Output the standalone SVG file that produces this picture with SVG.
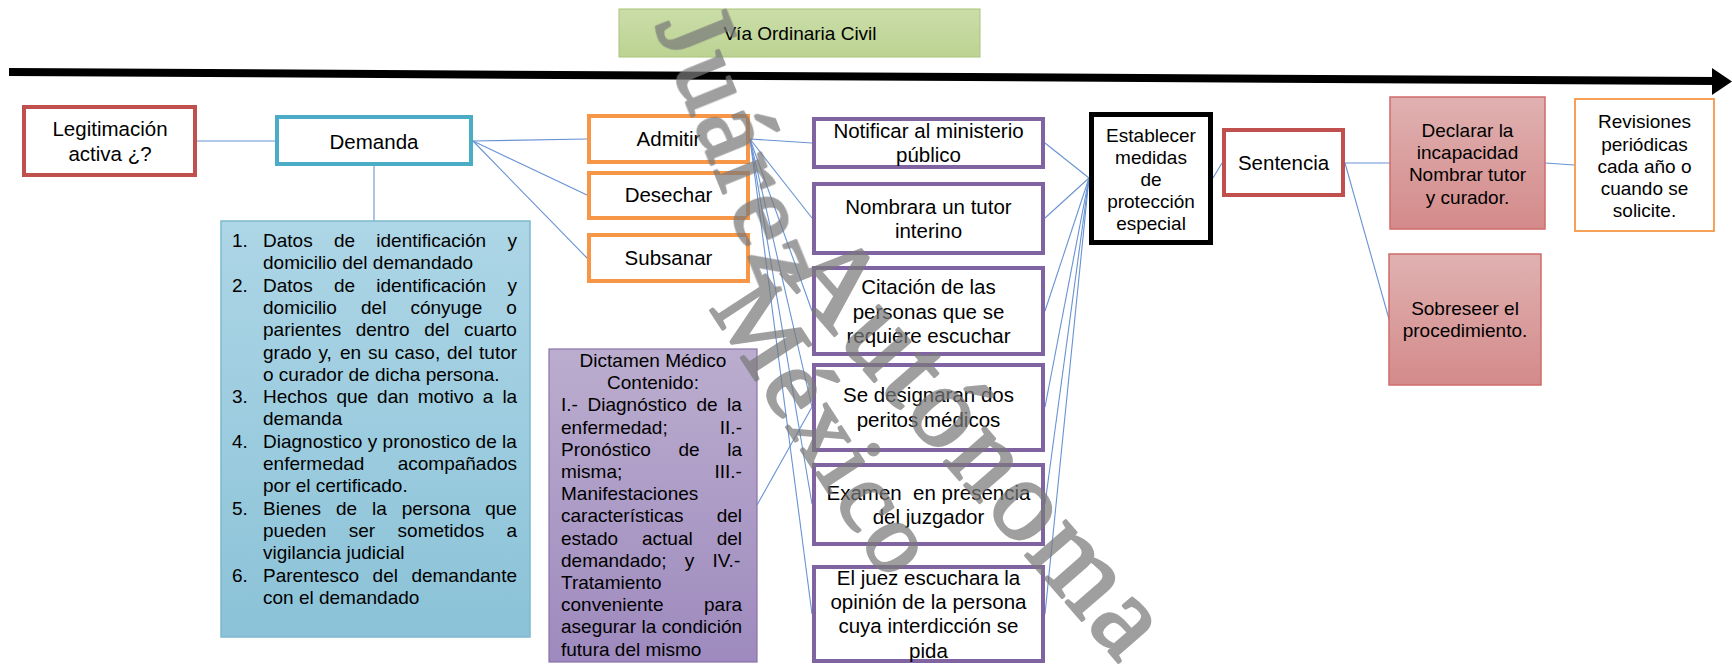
<svg xmlns="http://www.w3.org/2000/svg" width="1732" height="665" viewBox="0 0 1732 665">
  <defs>
    <linearGradient id="gGreen" x1="0" y1="0" x2="0" y2="1">
      <stop offset="0" stop-color="#CADDA8"/>
      <stop offset="1" stop-color="#BCD393"/>
    </linearGradient>
    <linearGradient id="gBlue" x1="0" y1="0" x2="0" y2="1">
      <stop offset="0" stop-color="#ADD6E6"/>
      <stop offset="1" stop-color="#8BC2D7"/>
    </linearGradient>
    <linearGradient id="gPurple" x1="0" y1="0" x2="0" y2="1">
      <stop offset="0" stop-color="#BBADCE"/>
      <stop offset="1" stop-color="#9E8ABE"/>
    </linearGradient>
    <linearGradient id="gRed" x1="0" y1="0" x2="0" y2="1">
      <stop offset="0" stop-color="#E0B1B1"/>
      <stop offset="1" stop-color="#D48A8A"/>
    </linearGradient>
  </defs>
  <style>
    text { font-family: "Liberation Sans", Arial, sans-serif; fill: #000; }
    .s19 { font-size: 19px; }
    .s20 { font-size: 20.5px; }
    .c { text-anchor: middle; }
    .pre { white-space: pre; }
    .conn line { stroke: #6893D3; stroke-width: 1.1; }
    .box { fill: #fff; }
    .redBox { stroke: #C0504D; stroke-width: 4; }
    .blueBox { stroke: #4BACC6; stroke-width: 4; }
    .orangeBox { stroke: #F79646; stroke-width: 4; }
    .purpleBox { stroke: #8064A2; stroke-width: 4; }
    .wm { opacity: 0.72; }
    .wm text { font-family: "Liberation Serif", "Times New Roman", serif; fill: #7a7a7a; stroke: #7a7a7a; stroke-width: 3; stroke-linejoin: round; letter-spacing: 4px; }
  </style>

  <rect width="1732" height="665" fill="#fff"/>

  <!-- title -->
  <g id="title">
    <rect x="619" y="9" width="361" height="48" fill="url(#gGreen)" stroke="#A9C47A" stroke-width="1"/>
    <text class="s19 c" x="800" y="40">Vía Ordinaria Civil</text>
  </g>

  <!-- time line -->
  <g id="timeline">
    <line x1="9" y1="72" x2="1716" y2="81" stroke="#000" stroke-width="8"/>
    <polygon points="1712,68 1732,81.5 1712,95" fill="#000"/>
  </g>

  <!-- connectors -->
  <g class="conn" id="connectors">
    <line x1="197" y1="141" x2="275" y2="141"/>
    <line x1="473" y1="141" x2="587" y2="139"/>
    <line x1="473" y1="141" x2="587" y2="195"/>
    <line x1="473" y1="141" x2="587" y2="258"/>
    <line x1="374" y1="166" x2="374" y2="221"/>
    <line x1="750" y1="139" x2="812" y2="143"/>
    <line x1="750" y1="139" x2="812" y2="218"/>
    <line x1="750" y1="139" x2="812" y2="311"/>
    <line x1="750" y1="139" x2="812" y2="407"/>
    <line x1="750" y1="139" x2="812" y2="504"/>
    <line x1="750" y1="139" x2="812" y2="614"/>
    <line x1="757" y1="505" x2="812" y2="407"/>
    <line x1="1045" y1="143" x2="1089" y2="178"/>
    <line x1="1045" y1="218" x2="1089" y2="178"/>
    <line x1="1045" y1="311" x2="1089" y2="178"/>
    <line x1="1045" y1="407" x2="1089" y2="178"/>
    <line x1="1045" y1="504" x2="1089" y2="178"/>
    <line x1="1045" y1="614" x2="1089" y2="178"/>
    <line x1="1213" y1="178" x2="1222" y2="163"/>
    <line x1="1345" y1="163" x2="1390" y2="163"/>
    <line x1="1345" y1="163" x2="1389" y2="319"/>
    <line x1="1545" y1="163" x2="1574" y2="165"/>
  </g>

  <g id="legitimacion">
    <rect class="box redBox" x="24" y="107" width="171" height="68"/>
    <text class="s20 c" x="110" y="136">Legitimación</text>
    <text class="s20 c" x="110" y="161">activa ¿?</text>
  </g>

  <g id="demanda">
    <rect class="box blueBox" x="277" y="117" width="194" height="47"/>
    <text class="s20 c" x="374" y="149">Demanda</text>
  </g>

  <g id="requisitos">
    <rect x="221" y="221" width="309" height="416" fill="url(#gBlue)" stroke="#7DB9D0" stroke-width="1.5"/>
    <g class="s19">
      <text x="232" y="247">1.</text>
      <text y="247"><tspan x="263">Datos</tspan><tspan x="333.9">de</tspan><tspan x="376.3">identificación</tspan><tspan x="507.4">y</tspan></text>
      <text x="263" y="269.3">domicilio del demandado</text>
      <text x="232" y="291.6">2.</text>
      <text y="291.6"><tspan x="263">Datos</tspan><tspan x="333.9">de</tspan><tspan x="376.3">identificación</tspan><tspan x="507.4">y</tspan></text>
      <text y="313.9"><tspan x="263">domicilio</tspan><tspan x="361">del</tspan><tspan x="410.4">cónyuge</tspan><tspan x="506.3">o</tspan></text>
      <text y="336.2"><tspan x="263">parientes</tspan><tspan x="355.7">dentro</tspan><tspan x="424.2">del</tspan><tspan x="464.1">cuarto</tspan></text>
      <text y="358.5"><tspan x="263">grado</tspan><tspan x="318.4">y,</tspan><tspan x="340">en</tspan><tspan x="367.9">su</tspan><tspan x="394.8">caso,</tspan><tspan x="447">del</tspan><tspan x="479.1">tutor</tspan></text>
      <text x="263" y="380.8">o curador de dicha persona.</text>
      <text x="232" y="403.1">3.</text>
      <text y="403.1"><tspan x="263">Hechos</tspan><tspan x="336.4">que</tspan><tspan x="377.1">dan</tspan><tspan x="417.8">motivo</tspan><tspan x="482.8">a</tspan><tspan x="502.4">la</tspan></text>
      <text x="263" y="425.4">demanda</text>
      <text x="232" y="447.7">4.</text>
      <text y="447.7"><tspan x="263">Diagnostico</tspan><tspan x="367.7">y</tspan><tspan x="382.6">pronostico</tspan><tspan x="475.6">de</tspan><tspan x="502.1">la</tspan></text>
      <text y="470"><tspan x="263">enfermedad</tspan><tspan x="397.7">acompañados</tspan></text>
      <text x="263" y="492.3">por el certificado.</text>
      <text x="232" y="514.6">5.</text>
      <text y="514.6"><tspan x="263">Bienes</tspan><tspan x="336">de</tspan><tspan x="372">la</tspan><tspan x="401.7">persona</tspan><tspan x="485.2">que</tspan></text>
      <text y="536.9"><tspan x="263">pueden</tspan><tspan x="348.8">ser</tspan><tspan x="397.6">sometidos</tspan><tspan x="506.6">a</tspan></text>
      <text x="263" y="559.2">vigilancia judicial</text>
      <text x="232" y="581.5">6.</text>
      <text y="581.5"><tspan x="263">Parentesco</tspan><tspan x="372.6">del</tspan><tspan x="411.4">demandante</tspan></text>
      <text x="263" y="603.8">con el demandado</text>
    </g>
  </g>

  <g id="admitir">
    <rect class="box orangeBox" x="589" y="116" width="159" height="46"/>
    <text class="s20 c" x="668.5" y="145.5">Admitir</text>
  </g>
  <g id="desechar">
    <rect class="box orangeBox" x="589" y="173" width="159" height="45"/>
    <text class="s20 c" x="668.5" y="202">Desechar</text>
  </g>
  <g id="subsanar">
    <rect class="box orangeBox" x="589" y="235" width="159" height="46"/>
    <text class="s20 c" x="668.5" y="265">Subsanar</text>
  </g>

  <g id="dictamen">
    <rect x="549" y="349" width="208" height="313" fill="url(#gPurple)" stroke="#8A72AC" stroke-width="1.2"/>
    <g class="s19">
      <text class="c" x="653" y="367">Dictamen Médico</text>
      <text class="c" x="653" y="389.2">Contenido:</text>
      <text y="411.4"><tspan x="561">I.-</tspan><tspan x="587.5">Diagnóstico</tspan><tspan x="696.4">de</tspan><tspan x="727.1">la</tspan></text>
      <text y="433.6"><tspan x="561">enfermedad;</tspan><tspan x="719.8">II.-</tspan></text>
      <text y="455.8"><tspan x="561">Pronóstico</tspan><tspan x="678.5">de</tspan><tspan x="727.3">la</tspan></text>
      <text y="478"><tspan x="561">misma;</tspan><tspan x="714.5">III.-</tspan></text>
      <text x="561" y="500.2">Manifestaciones</text>
      <text y="522.4"><tspan x="561">características</tspan><tspan x="716.7">del</tspan></text>
      <text y="544.6"><tspan x="561">estado</tspan><tspan x="642">actual</tspan><tspan x="716.7">del</tspan></text>
      <text y="566.8"><tspan x="561">demandado;</tspan><tspan x="684.8">y</tspan><tspan x="712.4">IV.-</tspan></text>
      <text x="561" y="589">Tratamiento</text>
      <text y="611.2"><tspan x="561">conveniente</tspan><tspan x="704">para</tspan></text>
      <text y="633.4"><tspan x="561">asegurar</tspan><tspan x="641.5">la</tspan><tspan x="661.8">condición</tspan></text>
      <text x="561" y="655.6">futura del mismo</text>
    </g>
  </g>

  <g id="notificar">
    <rect class="box purpleBox" x="814" y="119" width="229" height="48"/>
    <text class="s20 c" x="928.5" y="138">Notificar al ministerio</text>
    <text class="s20 c" x="928.5" y="162">público</text>
  </g>
  <g id="tutor-interino">
    <rect class="box purpleBox" x="814" y="184" width="229" height="69"/>
    <text class="s20 c" x="928.5" y="214">Nombrara un tutor</text>
    <text class="s20 c" x="928.5" y="238">interino</text>
  </g>
  <g id="citacion">
    <rect class="box purpleBox" x="814" y="268" width="229" height="86"/>
    <text class="s20 c" x="928.5" y="294">Citación de las</text>
    <text class="s20 c" x="928.5" y="319">personas que se</text>
    <text class="s20 c" x="928.5" y="343">requiere escuchar</text>
  </g>
  <g id="peritos">
    <rect class="box purpleBox" x="814" y="365" width="229" height="85"/>
    <text class="s20 c" x="928.5" y="402">Se designaran dos</text>
    <text class="s20 c" x="928.5" y="427">peritos médicos</text>
  </g>
  <g id="examen">
    <rect class="box purpleBox" x="814" y="465" width="229" height="79"/>
    <text class="s20 c pre" x="928.5" y="500">Examen  en presencia</text>
    <text class="s20 c" x="928.5" y="524">del juzgador</text>
  </g>
  <g id="opinion">
    <rect class="box purpleBox" x="814" y="567" width="229" height="94"/>
    <text class="s20 c" x="928.5" y="585">El juez escuchara la</text>
    <text class="s20 c" x="928.5" y="609">opinión de la persona</text>
    <text class="s20 c" x="928.5" y="633">cuya interdicción se</text>
    <text class="s20 c" x="928.5" y="658">pida</text>
  </g>

  <g id="medidas">
    <rect class="box" x="1091.5" y="114.5" width="119" height="128" stroke="#000" stroke-width="5"/>
    <text class="s19 c" x="1151" y="141.5">Establecer</text>
    <text class="s19 c" x="1151" y="163.5">medidas</text>
    <text class="s19 c" x="1151" y="185.5">de</text>
    <text class="s19 c" x="1151" y="207.5">protección</text>
    <text class="s19 c" x="1151" y="229.5">especial</text>
  </g>

  <g id="sentencia">
    <rect class="box redBox" x="1224" y="130" width="119" height="65"/>
    <text class="s20 c" x="1283.5" y="170">Sentencia</text>
  </g>

  <g id="declarar">
    <rect x="1390" y="97" width="155" height="132" fill="url(#gRed)" stroke="#CF6B6B" stroke-width="1.5"/>
    <text class="s19 c" x="1467.5" y="136.5">Declarar la</text>
    <text class="s19 c" x="1467.5" y="158.5">incapacidad</text>
    <text class="s19 c" x="1467.5" y="180.5">Nombrar tutor</text>
    <text class="s19 c" x="1467.5" y="203.5">y curador.</text>
  </g>

  <g id="revisiones">
    <rect class="box" x="1575" y="99" width="139" height="132" stroke="#F79646" stroke-width="1.8"/>
    <text class="s19 c" x="1644.5" y="127.5">Revisiones</text>
    <text class="s19 c" x="1644.5" y="150.5">periódicas</text>
    <text class="s19 c" x="1644.5" y="172.5">cada año o</text>
    <text class="s19 c" x="1644.5" y="194.5">cuando se</text>
    <text class="s19 c" x="1644.5" y="216.5">solicite.</text>
  </g>

  <g id="sobreseer">
    <rect x="1389" y="254" width="152" height="131" fill="url(#gRed)" stroke="#CF6B6B" stroke-width="1.5"/>
    <text class="s19 c" x="1465" y="314.5">Sobreseer el</text>
    <text class="s19 c" x="1465" y="336.5">procedimiento.</text>
  </g>

  <!-- watermark -->
  <g id="watermark" class="wm">
    <text font-size="108" transform="translate(655 25) rotate(68)">Juárez</text>
    <text font-size="100" transform="translate(709 308) rotate(57)">México</text>
    <text font-size="116" transform="translate(780 273) rotate(49)">Autónoma</text>
  </g>
</svg>
